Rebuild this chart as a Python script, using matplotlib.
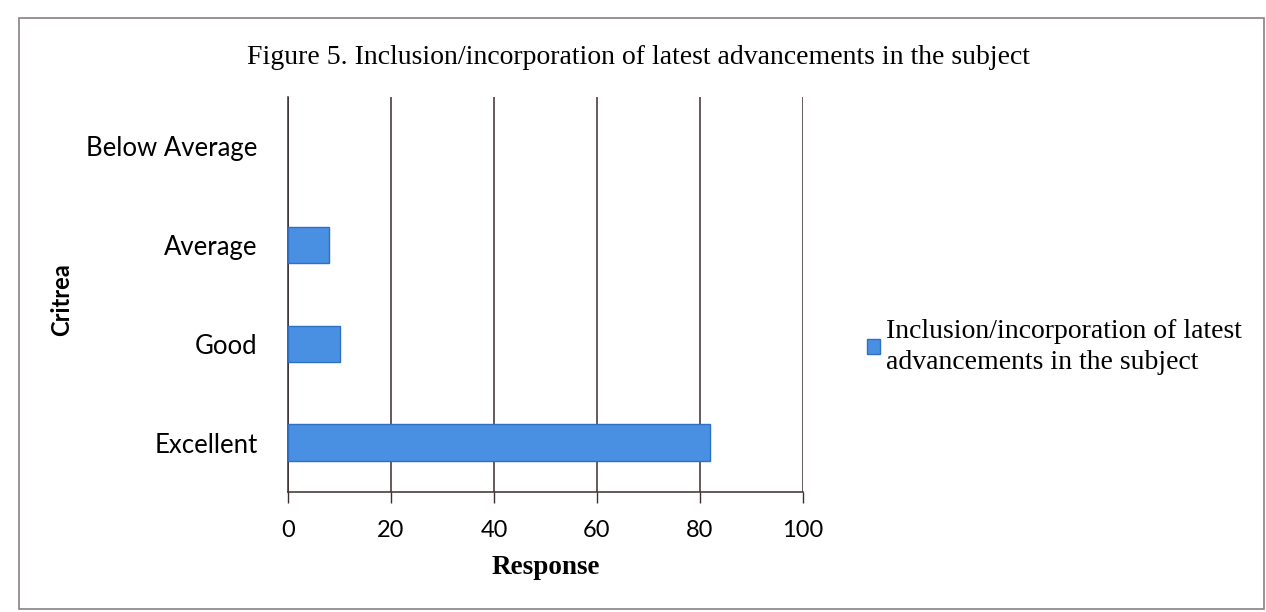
import matplotlib.pyplot as plt
from matplotlib.patches import Rectangle

# data
criteria = ['Excellent', 'Good', 'Average', 'Below Average']
responses = [82, 10, 8, 0]
series_name = 'Inclusion/incorporation of latest\nadvancements in the subject'
title = 'Figure 5. Inclusion/incorporation of latest advancements in the subject'
xticks = [0, 20, 40, 60, 80, 100]

W, H = 1266, 612
fig = plt.figure(figsize=(W / 100, H / 100), dpi=100)
fig.patch.set_facecolor('white')

# page border of the scan
fig.patches.append(Rectangle((19 / W, 1 - 609 / H), (1264 - 19) / W, (609 - 18) / H,
                             transform=fig.transFigure, fill=False,
                             edgecolor='#8a7f84', linewidth=1.2))

ax = fig.add_axes([288 / W, 1 - 492 / H, (803 - 288) / W, (492 - 97) / H])

bars = ax.barh(range(len(criteria)), responses, height=0.37,
               color='#4a90e2', edgecolor='#2f6fc4', linewidth=1.0,
               label=series_name, zorder=3)
for b, v in zip(bars, responses):
    if v == 0:
        b.set_linewidth(0)

ax.set_xlim(0, 100)
ax.set_ylim(-0.5, 3.5)
ax.set_xticks(xticks)
ax.set_yticks(range(len(criteria)))
ax.set_yticklabels(criteria, family='Lato', fontsize=18.5)
ax.set_xticklabels([str(t) for t in xticks], family='Lato', fontsize=17)
ax.tick_params(axis='y', length=0, pad=22)
ax.tick_params(axis='x', length=8, width=1, color='#3a2e2e', pad=12, direction='out')

ax.grid(axis='x', color='#3a2e2e', linewidth=1.1, zorder=1)
for s in ['top', 'right']:
    ax.spines[s].set_visible(False)
ax.spines['left'].set_color('#3a2e2e')
ax.spines['bottom'].set_color('#3a2e2e')
ax.spines['left'].set_linewidth(1.1)
ax.spines['bottom'].set_linewidth(1.1)

ax.set_xlabel('Response', family='Liberation Serif', fontweight='bold',
              fontsize=19.5, labelpad=10)
fig.text(62 / W, 1 - 300 / H, 'Critrea', family='Lato', fontweight='bold',
         fontsize=17, rotation=90, ha='center', va='center')

fig.text(638 / W, 1 - 58 / H, title, family='Liberation Serif', fontsize=20,
         ha='center', va='center')

leg = ax.legend(loc='center left', bbox_to_anchor=(842 / W, 1 - 347 / H),
                bbox_transform=fig.transFigure, frameon=False,
                prop={'family': 'Liberation Serif', 'size': 20},
                handlelength=0.45, handleheight=0.45, handletextpad=0.25,
                labelspacing=0.1)
leg.get_texts()[0].set_linespacing(1.35)

fig.savefig('out.png', dpi=100)
